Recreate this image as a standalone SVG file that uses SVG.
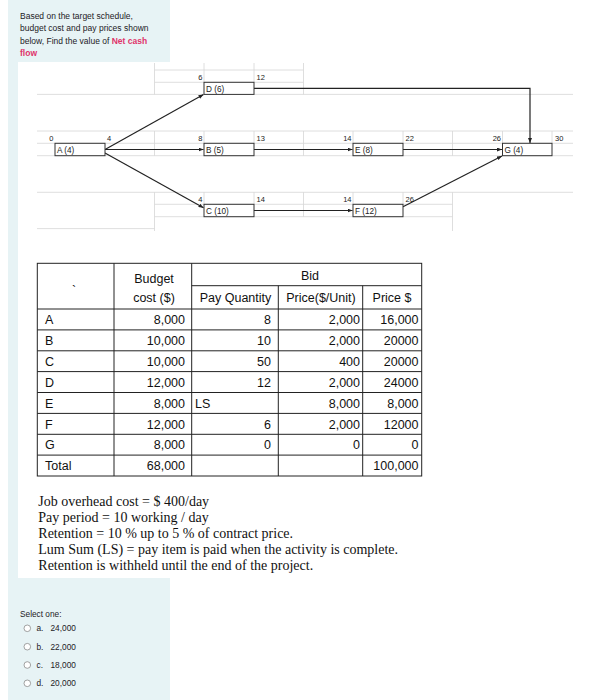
<svg xmlns="http://www.w3.org/2000/svg" width="606" height="700" viewBox="0 0 606 700">
<style>
.sans{font-family:"Liberation Sans",Arial,sans-serif;fill:#1d2125}
.q{font-size:8.5px}
.opt{font-size:8.3px}
.red{fill:#e0336b;font-weight:bold}
.grid{stroke:#d6d6d6;stroke-width:0.8;fill:none}
.box{fill:#fff;stroke:#333;stroke-width:1}
.lbl{font-family:"Liberation Sans",Arial,sans-serif;font-size:8.2px;fill:#222}
.num{font-family:"Liberation Sans",Arial,sans-serif;font-size:7.5px;fill:#222}
.r{text-anchor:end}
.con{stroke:#222;stroke-width:1.2;fill:none;marker-end:url(#ah)}
.tb{stroke:#222;stroke-width:1;fill:none}
.tt{font-family:"Liberation Sans",Arial,sans-serif;font-size:12.5px;fill:#111}
.c{text-anchor:middle}
.ser{font-family:"Liberation Serif","Times New Roman",serif;font-size:14px;fill:#111}
.radio{fill:#fff;stroke:#8c8c8c;stroke-width:0.8}
</style>
<defs>
<marker id="ah" markerUnits="userSpaceOnUse" markerWidth="5" markerHeight="4" viewBox="0 0 5 4" refX="5" refY="2" orient="auto">
<path d="M0,0 L5,2 L0,4 z" fill="#222"/>
</marker>
</defs>
<rect x="0" y="0" width="606" height="700" fill="#fff"/>
<rect x="8" y="0" width="162" height="700" fill="#e7f3f5"/>
<rect x="18" y="62" width="588" height="516" fill="#fff"/>
<g id="question">
<text class="sans q" x="20" y="18.5">Based on the target schedule,</text>
<text class="sans q" x="20" y="31">budget cost and pay prices shown</text>
<text class="sans q" x="20" y="43.5">below, Find the value of <tspan class="red">Net cash</tspan></text>
<text class="sans q red" x="20" y="56">flow</text>
</g>
<g id="grid" class="grid">
<path d="M154.5,70 H303.5 M154.5,82.3 H303.5 M37,94.4 H573 M37,131 H573 M37,143.3 H573 M37,155.7 H573 M37,192.3 H573 M154.5,204.3 H452.5 M154.5,216.7 H452.5 M37,228.6 H154.5"/>
<path d="M154.5,63 V94.4 M154.5,131 V155.7 M154.5,192.3 V231 M204,63 V82.3 M204,131 V143.3 M204,192.3 V204.3 M254,63 V82.3 M254,131 V143.3 M254,192.3 V204.3 M303.5,63 V94.4 M303.5,131 V155.7 M303.5,192.3 V216.7 M353,131 V143.3 M353,192.3 V204.3 M403,131 V143.3 M403,192.3 V204.3 M452.5,131 V155.7 M452.5,192.3 V231 M502.5,131 V143.3 M552,131 V143.3"/>
</g>
<g id="connectors">
<path class="con" d="M105,149.5 L203.5,94.6"/>
<path class="con" d="M105,149.5 H203.5"/>
<path class="con" d="M105,153 L203.5,207.8"/>
<path class="con" d="M254,88.3 H530 V143"/>
<path class="con" d="M254,149.5 H352.5"/>
<path class="con" d="M254,210.5 H352.5"/>
<path class="con" d="M403,149.5 H502"/>
<path class="con" d="M403,206.7 L502,156"/>
</g>
<g id="node-A">
<rect class="box" x="55" y="143.3" width="50" height="12.4"/>
<text class="lbl" x="57" y="153.2">A (4)</text>
<text class="num r" x="53.5" y="141">0</text>
<text class="num" x="107" y="141">4</text>
</g>
<g id="node-D">
<rect class="box" x="204" y="82.3" width="50" height="12.1"/>
<text class="lbl" x="206" y="92">D (6)</text>
<text class="num r" x="202.5" y="80">6</text>
<text class="num" x="256.5" y="80">12</text>
</g>
<g id="node-B">
<rect class="box" x="204" y="143.3" width="50" height="12.4"/>
<text class="lbl" x="206" y="153.2">B (5)</text>
<text class="num r" x="202.5" y="141">8</text>
<text class="num" x="256.5" y="141">13</text>
</g>
<g id="node-C">
<rect class="box" x="204" y="204.3" width="50" height="12.4"/>
<text class="lbl" x="206" y="214.2">C (10)</text>
<text class="num r" x="202.5" y="202">4</text>
<text class="num" x="256.5" y="202">14</text>
</g>
<g id="node-E">
<rect class="box" x="353" y="143.3" width="50" height="12.4"/>
<text class="lbl" x="355" y="153.2">E (8)</text>
<text class="num r" x="351.5" y="141">14</text>
<text class="num" x="405.5" y="141">22</text>
</g>
<g id="node-F">
<rect class="box" x="353" y="204.3" width="50" height="12.4"/>
<text class="lbl" x="355" y="214.2">F (12)</text>
<text class="num r" x="351.5" y="202">14</text>
<text class="num" x="405.5" y="202">26</text>
</g>
<g id="node-G">
<rect class="box" x="502.5" y="143.3" width="49.5" height="12.4"/>
<text class="lbl" x="504.5" y="153.2">G (4)</text>
<text class="num r" x="501" y="141">26</text>
<text class="num" x="555" y="141">30</text>
</g>
<g id="table">
<rect class="tb" x="37.3" y="263.3" width="384.4" height="212.7"/>
<path class="tb" d="M114,263.3 V476 M191.7,263.3 V476 M278.3,285.7 V476 M362.7,285.7 V476 M191.7,285.7 H421.7 M37.3,309 H421.7 M37.3,329.9 H421.7 M37.3,350.8 H421.7 M37.3,371.6 H421.7 M37.3,392.5 H421.7 M37.3,413.4 H421.7 M37.3,434.3 H421.7 M37.3,455.1 H421.7"/>
<text class="tt c" x="154" y="283">Budget</text>
<text class="tt c" x="154" y="302">cost ($)</text>
<text class="tt c" x="310" y="280">Bid</text>
<text class="tt c" x="235.5" y="302">Pay Quantity</text>
<text class="tt c" x="321" y="302">Price($/Unit)</text>
<text class="tt c" x="392" y="302">Price $</text>
<text class="tt" x="72" y="295" font-size="9px">`</text>
<text class="tt" x="45" y="324">A</text>
<text class="tt" x="45" y="345">B</text>
<text class="tt" x="45" y="366">C</text>
<text class="tt" x="45" y="386.5">D</text>
<text class="tt" x="45" y="407.5">E</text>
<text class="tt" x="45" y="428.5">F</text>
<text class="tt" x="45" y="449">G</text>
<text class="tt" x="45" y="470">Total</text>
<g class="r">
<text class="tt r" x="185" y="324">8,000</text>
<text class="tt r" x="185" y="345">10,000</text>
<text class="tt r" x="185" y="366">10,000</text>
<text class="tt r" x="185" y="386.5">12,000</text>
<text class="tt r" x="185" y="407.5">8,000</text>
<text class="tt r" x="185" y="428.5">12,000</text>
<text class="tt r" x="185" y="449">8,000</text>
<text class="tt r" x="185" y="470">68,000</text>
<text class="tt r" x="271" y="324">8</text>
<text class="tt r" x="271" y="345">10</text>
<text class="tt r" x="271" y="366">50</text>
<text class="tt r" x="271" y="386.5">12</text>
<text class="tt r" x="271" y="428.5">6</text>
<text class="tt r" x="271" y="449">0</text>
<text class="tt r" x="360" y="324">2,000</text>
<text class="tt r" x="360" y="345">2,000</text>
<text class="tt r" x="360" y="366">400</text>
<text class="tt r" x="360" y="386.5">2,000</text>
<text class="tt r" x="360" y="407.5">8,000</text>
<text class="tt r" x="360" y="428.5">2,000</text>
<text class="tt r" x="360" y="449">0</text>
<text class="tt r" x="418.5" y="324">16,000</text>
<text class="tt r" x="418.5" y="345">20000</text>
<text class="tt r" x="418.5" y="366">20000</text>
<text class="tt r" x="418.5" y="386.5">24000</text>
<text class="tt r" x="418.5" y="407.5">8,000</text>
<text class="tt r" x="418.5" y="428.5">12000</text>
<text class="tt r" x="418.5" y="449">0</text>
<text class="tt r" x="418.5" y="470">100,000</text>
</g>
<text class="tt" x="195" y="407.5">LS</text>
</g>
<g id="notes">
<text class="ser" x="38.3" y="505.5">Job overhead cost = $ 400/day</text>
<text class="ser" x="38.3" y="521.5">Pay period = 10 working / day</text>
<text class="ser" x="38.3" y="537.5">Retention = 10 % up to 5 % of contract price.</text>
<text class="ser" x="38.3" y="553.5">Lum Sum (LS) = pay item is paid when the activity is complete.</text>
<text class="ser" x="38.3" y="569.5">Retention is withheld until the end of the project.</text>
</g>
<g id="options">
<text class="sans opt" x="20" y="617">Select one:</text>
<circle class="radio" cx="27.3" cy="628.3" r="3.3"/>
<text class="sans opt" x="36.5" y="631.3">a.</text>
<text class="sans opt" x="50.5" y="631.3">24,000</text>
<circle class="radio" cx="27.3" cy="646.7" r="3.3"/>
<text class="sans opt" x="36.5" y="649.7">b.</text>
<text class="sans opt" x="50.5" y="649.7">22,000</text>
<circle class="radio" cx="27.3" cy="665" r="3.3"/>
<text class="sans opt" x="36.5" y="668">c.</text>
<text class="sans opt" x="50.5" y="668">18,000</text>
<circle class="radio" cx="27.3" cy="683.3" r="3.3"/>
<text class="sans opt" x="36.5" y="686.3">d.</text>
<text class="sans opt" x="50.5" y="686.3">20,000</text>
</g>
</svg>
